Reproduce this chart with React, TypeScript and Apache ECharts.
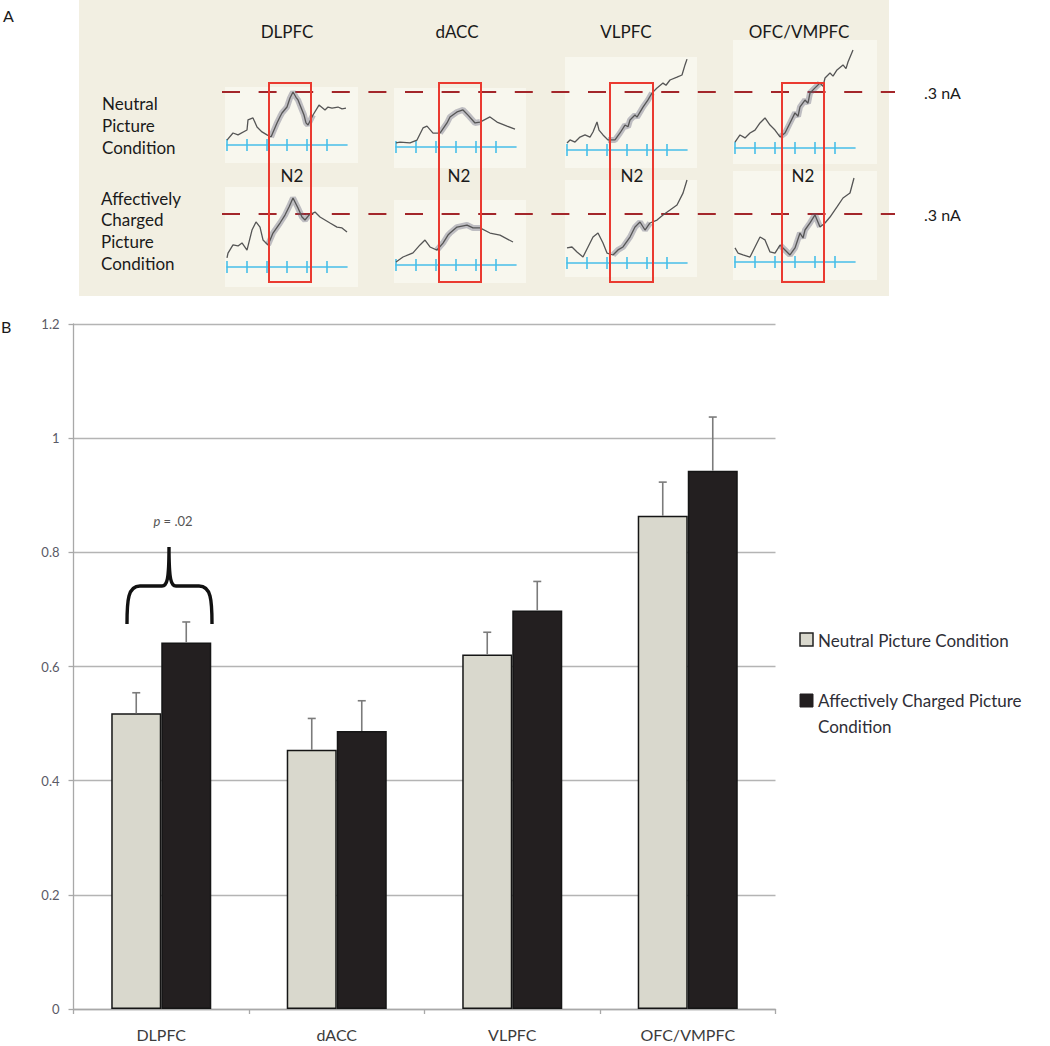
import React, { useEffect, useRef } from "react";
import * as echarts from "echarts";

// ---------- Panel B data ----------
const categories = ["DLPFC", "dACC", "VLPFC", "OFC/VMPFC"];
const neutralMeans = [0.518, 0.454, 0.621, 0.864];
const neutralErrors = [0.036, 0.055, 0.039, 0.059];
const chargedMeans = [0.642, 0.487, 0.698, 0.943];
const chargedErrors = [0.036, 0.053, 0.051, 0.094];
const seriesNames = ["Neutral Picture Condition", "Affectively Charged Picture Condition"];

// ---------- Panel A data (time in ms, amplitude in nA) ----------
const waveTickMs = [0, 100, 200, 300, 400, 500];
const n2Window = [215, 425];
const dlpfcNeutralWave = [[0,0.028],[30,0.068],[55,0.057],[100,0.085],[105,0.142],[130,0.153],[150,0.102],[175,0.074],[200,0.057],[220,0.045],[250,0.125],[265,0.160],[275,0.181],[300,0.215],[315,0.266],[330,0.300],[345,0.270],[355,0.255],[375,0.198],[385,0.170],[395,0.125],[405,0.113],[430,0.170],[460,0.226],[490,0.198],[505,0.215],[525,0.209],[555,0.215],[575,0.205],[595,0.209]];
const dlpfcChargedWave = [[0,0.051],[5,0.079],[30,0.125],[55,0.119],[75,0.136],[100,0.096],[125,0.209],[145,0.255],[165,0.226],[180,0.153],[205,0.125],[230,0.192],[265,0.249],[290,0.294],[310,0.340],[330,0.391],[355,0.334],[375,0.283],[390,0.266],[410,0.294],[440,0.311],[465,0.283],[490,0.266],[515,0.249],[550,0.226],[575,0.221],[600,0.198]];
const daccNeutralWave = [[0,0.022],[20,0.027],[70,0.022],[105,0.038],[135,0.104],[155,0.114],[185,0.076],[220,0.076],[255,0.131],[270,0.164],[305,0.191],[335,0.202],[360,0.174],[395,0.131],[420,0.136],[470,0.164],[505,0.136],[555,0.114],[595,0.098]];
const daccChargedWave = [[0,0.018],[35,0.047],[85,0.071],[120,0.118],[145,0.147],[170,0.106],[205,0.088],[235,0.129],[260,0.176],[270,0.188],[305,0.223],[355,0.235],[385,0.218],[420,0.218],[470,0.188],[520,0.176],[585,0.135]];
const vlpfcNeutralWave = [[0,0.036],[15,0.052],[40,0.041],[65,0.067],[90,0.078],[115,0.067],[130,0.093],[150,0.145],[160,0.103],[180,0.078],[205,0.052],[240,0.052],[265,0.088],[290,0.129],[305,0.120],[315,0.155],[340,0.181],[350,0.170],[365,0.196],[380,0.222],[405,0.259],[425,0.295],[450,0.321],[480,0.346],[495,0.335],[515,0.362],[550,0.377],[575,0.388],[590,0.440],[600,0.470]];
const vlpfcChargedWave = [[0,0.092],[25,0.098],[50,0.067],[80,0.037],[105,0.098],[130,0.159],[155,0.184],[180,0.122],[200,0.061],[230,0.049],[255,0.080],[280,0.098],[315,0.159],[340,0.220],[365,0.251],[390,0.202],[415,0.245],[450,0.263],[480,0.294],[515,0.324],[550,0.355],[580,0.428],[600,0.508]];
const ofcNeutralWave = [[0,0.032],[25,0.070],[50,0.054],[75,0.080],[100,0.096],[125,0.134],[150,0.161],[175,0.123],[200,0.096],[225,0.059],[250,0.080],[275,0.134],[300,0.188],[315,0.170],[325,0.220],[350,0.257],[365,0.240],[375,0.295],[400,0.322],[425,0.348],[440,0.330],[450,0.375],[475,0.402],[490,0.385],[510,0.418],[540,0.445],[555,0.425],[565,0.461],[590,0.525]];
const ofcChargedWave = [[0,0.088],[15,0.056],[40,0.044],[75,0.031],[100,0.094],[125,0.156],[150,0.138],[175,0.063],[200,0.056],[225,0.106],[250,0.075],[275,0.044],[300,0.088],[325,0.181],[340,0.150],[350,0.200],[375,0.244],[400,0.294],[425,0.219],[450,0.244],[475,0.281],[510,0.344],[540,0.400],[575,0.431],[595,0.525]];
const neutralWaves = [dlpfcNeutralWave, daccNeutralWave, vlpfcNeutralWave, ofcNeutralWave];
const chargedWaves = [dlpfcChargedWave, daccChargedWave, vlpfcChargedWave, ofcChargedWave];
const rowLabels = [["Neutral", "Picture", "Condition"], ["Affectively", "Charged", "Picture", "Condition"]];

const FONT = "Lato, 'Open Sans', sans-serif";

const BRACE_D = "M127,624 C127,600 128,586 140,586 L162,586 C167,586 169,580 169,547 C169,580 171,586 176,586 L199,586 C211,586 212,600 212,624";
echarts.graphic.registerShape("brace", echarts.graphic.extendPath(BRACE_D, {}));

// layout of the mini waveform plots
const miniLeft = [227, 396, 567, 735];
const miniAxisY = [[145, 147, 150, 148], [267, 265, 263, 262]];
const dashY = [92, 214];
const panelCenters = [287, 457, 626, 799];
const n2Centers = [292, 459, 632, 803];
const redBoxes = [[269, 311], [439, 481], [610, 653], [782, 824]];
const innerRects = [
  [225, 87, 133, 76], [225, 187, 133, 100],
  [394, 88, 132, 80], [394, 200, 132, 83],
  [565, 57, 132, 111], [565, 180, 132, 97],
  [733, 40, 144, 124], [733, 171, 144, 109],
];

export default function App() {
  const ref = useRef<HTMLDivElement>(null);
  useEffect(() => {
    document.body.style.margin = "0";
    const chart = echarts.init(ref.current!, null, { renderer: "svg" });

    const grids: any[] = [];
    const xAxes: any[] = [];
    const yAxes: any[] = [];
    const series: any[] = [];
    const blue = "#47bfe9";

    for (let r = 0; r < 2; r++) {
      for (let c = 0; c < 4; c++) {
        const gi = grids.length;
        grids.push({
          left: miniLeft[c],
          top: dashY[r],
          width: 120,
          height: miniAxisY[r][c] - dashY[r],
        });
        xAxes.push({
          type: "value", gridIndex: gi, min: 0, max: 600, position: "bottom",
          axisLine: { show: true, onZero: false, lineStyle: { color: blue, width: 1.6 } },
          axisTick: { show: true, inside: true, length: 6, customValues: waveTickMs, lineStyle: { color: blue, width: 1.6 } },
          axisLabel: { show: false }, splitLine: { show: false },
        });
        xAxes.push({
          type: "value", gridIndex: gi, min: 0, max: 600, position: "bottom",
          axisLine: { show: false, onZero: false },
          axisTick: { show: true, inside: false, length: 6, customValues: waveTickMs, lineStyle: { color: blue, width: 1.6 } },
          axisLabel: { show: false }, splitLine: { show: false },
        });
        yAxes.push({ type: "value", gridIndex: gi, min: 0, max: 0.3, show: false });
        const wave = r === 0 ? neutralWaves[c] : chargedWaves[c];
        const band = wave.filter((p) => p[0] >= n2Window[0] - 10 && p[0] <= n2Window[1] + 10);
        series.push({
          type: "line", xAxisIndex: gi * 2, yAxisIndex: gi, data: band, symbol: "none",
          clip: false, silent: true, z: 2,
          lineStyle: { color: "rgba(95,95,120,0.38)", width: 6 },
        });
        series.push({
          type: "line", xAxisIndex: gi * 2, yAxisIndex: gi, data: wave, symbol: "none",
          clip: false, silent: true, z: 3,
          lineStyle: { color: "#555", width: 1.3 },
        });
      }
    }

    // main bar chart
    const mg = grids.length;
    grids.push({ left: 73.5, top: 324, width: 702, height: 685 });
    const mx = xAxes.length;
    xAxes.push({
      type: "category", gridIndex: mg, data: categories,
      axisLine: { lineStyle: { color: "#a8a8a8", width: 1.3 } },
      axisTick: { show: true, length: 5, lineStyle: { color: "#a8a8a8", width: 1.3 } },
      axisLabel: { fontSize: 16, color: "#3c3c3c", margin: 16, fontFamily: FONT, lineHeight: 18 },
    });
    const my = yAxes.length;
    yAxes.push({
      type: "value", gridIndex: mg, min: 0, max: 1.2, interval: 0.2,
      axisLine: { show: true, lineStyle: { color: "#a8a8a8", width: 1.3 } },
      axisTick: { show: true, length: 5, lineStyle: { color: "#a8a8a8", width: 1.3 } },
      splitLine: { show: true, lineStyle: { color: "#b4b4b4", width: 1.4 } },
      axisLabel: { fontSize: 13, color: "#5a5a66", margin: 14, fontFamily: FONT },
    });

    const barFrac = 0.285;
    series.push({
      name: seriesNames[0], type: "bar", xAxisIndex: mx, yAxisIndex: my,
      data: neutralMeans, barWidth: "28.5%", barGap: "0%",
      itemStyle: { color: "#d9d8cd", borderColor: "#151515", borderWidth: 1.5 },
    });
    series.push({
      name: seriesNames[1], type: "bar", xAxisIndex: mx, yAxisIndex: my,
      data: chargedMeans, barWidth: "28.5%", barGap: "0%",
      itemStyle: { color: "#231f20", borderColor: "#151515", borderWidth: 1.5 },
    });
    const errSeries = (means: number[], errs: number[], sign: number) => ({
      type: "custom", xAxisIndex: mx, yAxisIndex: my, z: 5, silent: true,
      data: means.map((m, i) => [i, m, errs[i]]),
      encode: { x: 0, y: 1 },
      renderItem: (params: any, api: any) => {
        const idx = api.value(0);
        const mean = api.value(1);
        const err = api.value(2);
        const base = api.coord([idx, mean]);
        const top = api.coord([idx, mean + err]);
        const bw = api.size([1, 0])[0] * barFrac;
        const x = base[0] + (sign * bw) / 2;
        const st = { stroke: "#7b7b7b", lineWidth: 1.6 };
        return {
          type: "group",
          children: [
            { type: "line", shape: { x1: x, y1: base[1], x2: x, y2: top[1] }, style: st },
            { type: "line", shape: { x1: x - 4, y1: top[1], x2: x + 4, y2: top[1] }, style: st },
          ],
        };
      },
    });
    series.push(errSeries(neutralMeans, neutralErrors, -1));
    series.push(errSeries(chargedMeans, chargedErrors, 1));

    // graphics (panel A decorations, labels, legend, brace)
    const g: any[] = [];
    g.push({ type: "rect", z: -10, shape: { x: 79, y: 0, width: 810, height: 296 }, style: { fill: "#f2efe2" } });
    innerRects.forEach((r) =>
      g.push({ type: "rect", z: -9, shape: { x: r[0], y: r[1], width: r[2], height: r[3] }, style: { fill: "#f8f7ee" } })
    );
    dashY.forEach((y) =>
      g.push({
        type: "line", z: 1, shape: { x1: 222, y1: y, x2: 895, y2: y },
        style: { stroke: "#a3262a", lineWidth: 2, lineDash: [18, 18.6] },
      })
    );
    redBoxes.forEach((b) =>
      g.push({
        type: "rect", z: 6, shape: { x: b[0], y: 83, width: b[1] - b[0], height: 199 },
        style: { fill: "none", stroke: "#ea3a30", lineWidth: 2 },
      })
    );
    const txt = (text: string, x: number, y: number, size: number, align = "left", fill = "#1a1a1a", extra: any = {}) => ({
      type: "text", z: 7, x, y,
      style: { text, fontSize: size, fontFamily: FONT, fill, align, verticalAlign: "middle", ...extra },
    });
    g.push(txt("A", 3, 15, 16));
    g.push(txt("B", 1, 326, 16));
    categories.forEach((c, i) => g.push(txt(c, panelCenters[i], 31, 17, "center")));
    n2Centers.forEach((x) => g.push(txt("N2", x, 175, 17, "center")));
    dashY.forEach((y) => g.push(txt(".3 nA", 924, y, 16)));
    rowLabels[0].forEach((t, i) => g.push(txt(t, 102, 103 + i * 22, 17)));
    rowLabels[1].forEach((t, i) => g.push(txt(t, 101, 198 + i * 21.7, 17)));

    // brace + p value
    g.push({ type: "brace", z: 7, x: 0, y: 0, scaleX: 1, scaleY: 1, style: { fill: "none", stroke: "#111", lineWidth: 3.4 } });
    g.push({
      type: "text", z: 7, x: 173, y: 521,
      style: {
        text: "{i|p} = .02", fontSize: 13, fontFamily: FONT, fill: "#555", align: "center", verticalAlign: "middle",
        rich: { i: { fontStyle: "italic", fontSize: 13, fontFamily: FONT, fill: "#555" } },
      },
    });

    // legend
    g.push({ type: "rect", z: 7, shape: { x: 800, y: 633, width: 13, height: 13 }, style: { fill: "#d9d8cd", stroke: "#222", lineWidth: 1.5 } });
    g.push(txt(seriesNames[0], 818, 640, 17, "left", "#2e2e36"));
    g.push({ type: "rect", z: 7, shape: { x: 800, y: 694, width: 13, height: 13 }, style: { fill: "#231f20", stroke: "#231f20", lineWidth: 1 } });
    g.push(txt("Affectively Charged Picture", 818, 700, 17, "left", "#2e2e36"));
    g.push(txt("Condition", 818, 726, 17, "left", "#2e2e36"));

    chart.setOption({
      animation: false,
      backgroundColor: "#ffffff",
      grid: grids,
      xAxis: xAxes,
      yAxis: yAxes,
      series,
      graphic: g,
    });
    return () => chart.dispose();
  }, []);
  return <div ref={ref} style={{ position: "absolute", left: 0, top: 0, width: 1050, height: 1046 }} />;
}
